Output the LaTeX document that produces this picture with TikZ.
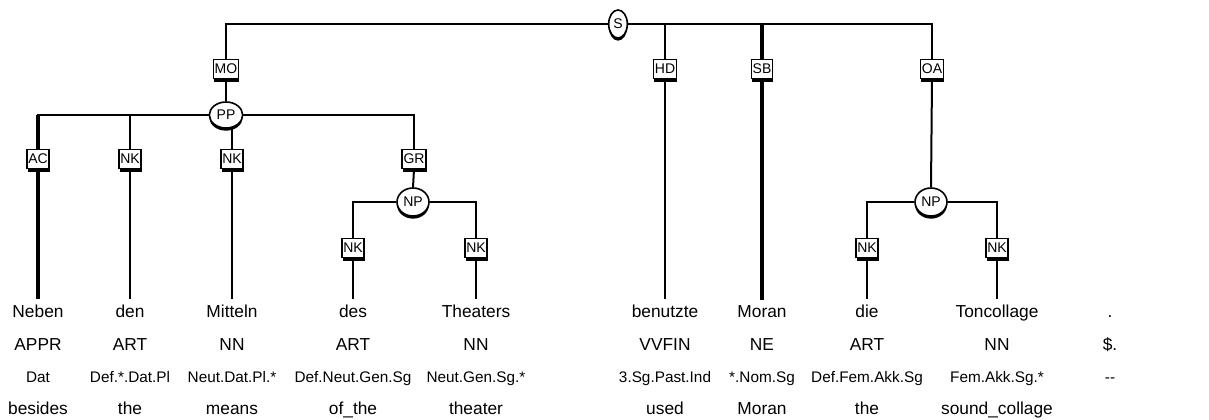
\documentclass[tikz,border=0pt]{standalone}
\usepackage{fontspec}
\setmainfont{Liberation Sans}
\usepackage{tikz}
\usetikzlibrary{shapes.geometric, shadows, positioning}

\tikzset{
  edge/.style={line width=1.5pt},
  headedge/.style={line width=2.3pt},
  lbl/.style={draw, fill=white, line width=1.2pt, font=\fontsize{10.5}{10.5}\selectfont,
    inner xsep=1pt, inner ysep=0pt, minimum height=14pt,
    general shadow={fill=black, shadow xshift=0.6pt, shadow yshift=-2.4pt}},
  cat/.style={ellipse, draw, fill=white, line width=1.2pt, font=\fontsize{10.5}{10.5}\selectfont,
    inner sep=0pt, general shadow={fill=black, shadow xshift=0pt, shadow yshift=-2pt}},
  word/.style={anchor=base, inner sep=0pt, outer sep=4pt, font=\fontsize{13}{15}\selectfont},
  morph/.style={anchor=base, inner sep=0pt, font=\fontsize{11.5}{13}\selectfont}
}

\begin{document}
\begin{tikzpicture}[x=0.75pt, y=-0.75pt]
  \useasboundingbox (0,0) rectangle (1209,419);
  % terminals: word, pos, morphology, gloss
  \node[word] (w1) at (38,317){Neben};    \node[word] (p1) at (38,350){APPR};   \node[morph] (m1) at (38,382){Dat};             \node[word] (g1) at (38,414){besides};
  \node[word] (w2) at (130,317){den};     \node[word] (p2) at (130,350){ART};   \node[morph] (m2) at (130,382){Def.*.Dat.Pl};   \node[word] (g2) at (130,414){the};
  \node[word] (w3) at (232,317){Mitteln}; \node[word] (p3) at (232,350){NN};    \node[morph] (m3) at (232,382){Neut.Dat.Pl.*};  \node[word] (g3) at (232,414){means};
  \node[word] (w4) at (353,317){des};     \node[word] (p4) at (353,350){ART};   \node[morph] (m4) at (353,382){Def.Neut.Gen.Sg}; \node[word] (g4) at (353,414){of\_the};
  \node[word] (w5) at (476,317){Theaters}; \node[word] (p5) at (476,350){NN};   \node[morph] (m5) at (476,382){Neut.Gen.Sg.*}; \node[word] (g5) at (476,414){theater};
  \node[word] (w6) at (665,317){benutzte}; \node[word] (p6) at (665,350){VVFIN}; \node[morph] (m6) at (665,382){3.Sg.Past.Ind}; \node[word] (g6) at (665,414){used};
  \node[word] (w7) at (762,317){Moran};   \node[word] (p7) at (762,350){NE};    \node[morph] (m7) at (762,382){*.Nom.Sg};       \node[word] (g7) at (762,414){Moran};
  \node[word] (w8) at (867,317){die};     \node[word] (p8) at (867,350){ART};   \node[morph] (m8) at (867,382){Def.Fem.Akk.Sg}; \node[word] (g8) at (867,414){the};
  \node[word] (w9) at (997,317){Toncollage}; \node[word] (p9) at (997,350){NN}; \node[morph] (m9) at (997,382){Fem.Akk.Sg.*};   \node[word] (g9) at (997,414){sound\_collage};
  \node[word] (w10) at (1110,317){.};     \node[word] (p10) at (1110,350){\$.}; \node[morph] (m10) at (1110,382){-{}-};

  % phrase nodes
  \node[cat, minimum width=14pt, minimum height=21pt] (S) at (618,24){S};
  \node[cat, minimum width=25pt, minimum height=19.5pt] (PP) at (226,115){PP};
  \node[cat, minimum width=24pt, minimum height=21pt] (NPa) at (413,202){NP};
  \node[cat, minimum width=24pt, minimum height=21pt] (NPb) at (931,202){NP};

  % edge labels
  \node[lbl] (MO) at (226,69){MO};
  \node[lbl] (HD) at (665,69){HD};
  \node[lbl] (SB) at (762,69){SB};
  \node[lbl] (OA) at (932,69){OA};
  \node[lbl] (AC) at (38,159){AC};
  \node[lbl] (nk1) at (130,159){NK};
  \node[lbl] (nk2) at (232,159){NK};
  \node[lbl] (GR) at (414,159){GR};
  \node[lbl] (nk3) at (353,248){NK};
  \node[lbl] (nk4) at (476,248){NK};
  \node[lbl] (nk5) at (867,248){NK};
  \node[lbl] (nk6) at (997,248){NK};

  % S
  \draw[edge] (S.west) -| (MO.north);
  \draw[edge] (S.east) -| (HD.north);
  \draw[edge] (S.east) -| (OA.north);
  \draw[headedge] (SB.north |- S) -- (SB.north);
  \draw[edge] (HD.south) -- (w6.north);
  \draw[headedge] (SB.south) -- (w7.north);
  \draw[edge] (MO.south) -- (PP.north);
  \draw[edge] (OA.south) -- (NPb.north);
  % PP
  \draw[edge] (PP.west) -| (nk1.north);
  \draw[edge] (PP.west) -| (AC.north);
  \draw[headedge] (AC.north |- PP) -- (AC.north);
  \draw[edge] (nk2 |- PP.south) -- (nk2.north);
  \draw[edge] (PP.east) -| (GR.north);
  \draw[headedge] (AC.south) -- (w1.north);
  \draw[edge] (nk1.south) -- (w2.north);
  \draw[edge] (nk2.south) -- (w3.north);
  \draw[edge] (GR.south) -- (NPa.north);
  % NPs
  \draw[edge] (NPa.west) -| (nk3.north);
  \draw[edge] (NPa.east) -| (nk4.north);
  \draw[edge] (nk3.south) -- (w4.north);
  \draw[edge] (nk4.south) -- (w5.north);
  \draw[edge] (NPb.west) -| (nk5.north);
  \draw[edge] (NPb.east) -| (nk6.north);
  \draw[edge] (nk5.south) -- (w8.north);
  \draw[edge] (nk6.south) -- (w9.north);
\end{tikzpicture}
\end{document}
